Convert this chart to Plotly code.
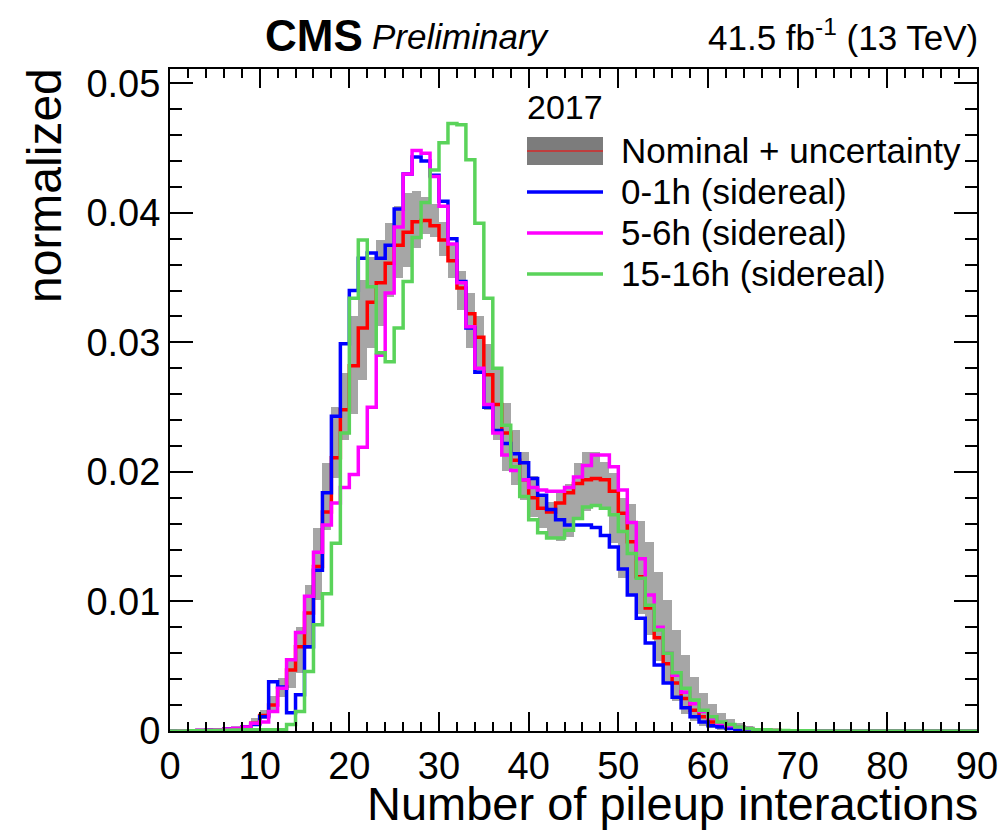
import numpy as np
import plotly.graph_objects as go

# ---------------- data (bins of width 1 from 0 to 90) ----------------
bin_edges = list(range(0, 91))

nominal = [0, 0.00001, 0.00002, 0.00004, 0.00006, 0.0001, 0.00014, 0.0002, 0.0003,
           0.0006, 0.0012, 0.002, 0.0033, 0.0047, 0.0065, 0.0091, 0.0127, 0.0169, 0.0211,
           0.0248, 0.0282, 0.0311, 0.0331, 0.0346, 0.0361, 0.0375, 0.0385, 0.0393, 0.0394,
           0.039, 0.0379, 0.0363, 0.0342, 0.0322, 0.0304, 0.0275, 0.0252, 0.023, 0.0209,
           0.0194, 0.018, 0.0172, 0.0169, 0.0176, 0.0184, 0.0191, 0.0194, 0.0195, 0.0194,
           0.0185, 0.0168, 0.0146, 0.0119, 0.0095, 0.0072, 0.0052, 0.0037, 0.0025, 0.0016,
           0.0011, 0.0007, 0.0004, 0.0003, 0.0002, 0.00012, 0.00008, 0.00005, 0.00003, 0.00002,
           0.00001, 0.00001, 0.00001, 0.00001, 0, 0, 0, 0, 0, 0,
           0, 0, 0, 0, 0, 0, 0, 0, 0, 0, 0]

band_lo = [0, 0, 0, 0.00002, 0.00004, 0.00006, 0.0001, 0.00014, 0.0002,
           0.0004, 0.0009, 0.0016, 0.0026, 0.0033, 0.0045, 0.0063, 0.0101, 0.0155, 0.0195,
           0.0225, 0.0245, 0.0271, 0.0296, 0.0313, 0.0335, 0.035, 0.0358, 0.0373, 0.0384,
           0.0381, 0.0367, 0.035, 0.0325, 0.0296, 0.0276, 0.0248, 0.0225, 0.0201, 0.019,
           0.0178, 0.0165, 0.0157, 0.015, 0.0147, 0.015, 0.0163, 0.017, 0.0174, 0.0172,
           0.0145, 0.0118, 0.0105, 0.009, 0.0074, 0.0054, 0.0036, 0.0023, 0.0013, 0.0008,
           0.0004, 0.0002, 0.0001, 0.0001, 0, 0, 0, 0, 0, 0,
           0, 0, 0, 0, 0, 0, 0, 0, 0, 0,
           0, 0, 0, 0, 0, 0, 0, 0, 0, 0, 0]

band_hi = [0.00001, 0.00002, 0.00004, 0.00006, 0.0001, 0.00015, 0.0002, 0.0003, 0.0005,
           0.001, 0.0016, 0.0027, 0.0041, 0.0056, 0.008, 0.0113, 0.0157, 0.0207, 0.025,
           0.0276, 0.032, 0.0348, 0.0366, 0.0379, 0.0392, 0.0405, 0.0415, 0.0417, 0.0412,
           0.0407, 0.0393, 0.0375, 0.0355, 0.0338, 0.032, 0.0299, 0.0279, 0.0253, 0.0232,
           0.0215, 0.0197, 0.0182, 0.0177, 0.0184, 0.0191, 0.0207, 0.0215, 0.0215, 0.0208,
           0.0199, 0.018, 0.0175, 0.0162, 0.0146, 0.0123, 0.0101, 0.0078, 0.0059, 0.0042,
           0.0029, 0.0021, 0.0014, 0.0009, 0.0006, 0.0004, 0.0002, 0.0001, 0.00005, 0.00002,
           0.00002, 0.00002, 0.00001, 0.00001, 0, 0, 0, 0, 0, 0,
           0, 0, 0, 0, 0, 0, 0, 0, 0, 0, 0]

h0_1 = [0, 0, 0.00001, 0.00003, 0.00005, 0.0001, 0.00015, 0.0002, 0.0003,
        0.0005, 0.0011, 0.0038, 0.0034, 0.0014, 0.0028, 0.0065, 0.0124, 0.0184, 0.0243,
        0.0299, 0.034, 0.0365, 0.0369, 0.0365, 0.0375, 0.0403, 0.043, 0.0443, 0.044,
        0.0429, 0.0409, 0.038, 0.0347, 0.0311, 0.0277, 0.025, 0.0232, 0.0222, 0.0214,
        0.0207, 0.0195, 0.0182, 0.0171, 0.0163, 0.0159, 0.0159, 0.0159, 0.0157, 0.0151,
        0.0142, 0.0125, 0.0105, 0.0087, 0.0068, 0.0051, 0.0037, 0.0026, 0.0018, 0.0011,
        0.0007, 0.0004, 0.0003, 0.0002, 0.0001, 0.00006, 0.00004, 0.00002, 0.00001, 0.00001,
        0, 0, 0, 0, 0, 0, 0, 0, 0, 0,
        0, 0, 0, 0, 0, 0, 0, 0, 0, 0, 0]

h5_6 = [0, 0.00001, 0.00002, 0.00004, 0.00006, 0.0001, 0.00015, 0.0002, 0.0003,
        0.0006, 0.0007, 0.0015, 0.0033, 0.0055, 0.0076, 0.0104, 0.0138, 0.0159, 0.0176,
        0.0188, 0.0198, 0.0219, 0.025, 0.029, 0.0338, 0.0389, 0.043, 0.0448, 0.0446,
        0.0428, 0.0405, 0.0376, 0.0346, 0.0312, 0.028, 0.0252, 0.023, 0.0213, 0.0201,
        0.0194, 0.0188, 0.0186, 0.0185, 0.0185, 0.0188, 0.0196, 0.0205, 0.0213, 0.0213,
        0.0204, 0.0186, 0.0161, 0.0133, 0.0105, 0.008, 0.006, 0.0043, 0.003, 0.0021,
        0.0015, 0.001, 0.0006, 0.0004, 0.0003, 0.0002, 0.0001, 0.00006, 0.00003, 0.00002,
        0.00001, 0.00001, 0, 0, 0, 0, 0, 0, 0, 0,
        0, 0, 0, 0, 0, 0, 0, 0, 0, 0, 0]

h15_16 = [0, 0, 0.00001, 0.00002, 0.00003, 0.00005, 0.00006, 0.00008, 0.0001,
          0.0001, 0.0001, 0.0001, 0.0001, 0.0005, 0.0015, 0.0046, 0.0082, 0.0106, 0.0145,
          0.023, 0.0334, 0.0379, 0.0343, 0.0292, 0.0285, 0.0311, 0.0347, 0.0381, 0.0408,
          0.0433, 0.0454, 0.0469, 0.0468, 0.0441, 0.0392, 0.0334, 0.028, 0.0236, 0.0204,
          0.0181, 0.0163, 0.0153, 0.0149, 0.0149, 0.0155, 0.0164, 0.0173, 0.0174, 0.0172,
          0.0167, 0.0154, 0.0137, 0.0118, 0.0097, 0.0078, 0.006, 0.0045, 0.0033, 0.0024,
          0.0016, 0.0011, 0.0007, 0.0005, 0.0003, 0.0002, 0.0001, 0.0001, 0.00005, 0.00003,
          0.00002, 0.00001, 0.00001, 0, 0, 0, 0, 0, 0, 0,
          0, 0, 0, 0, 0, 0, 0, 0, 0, 0, 0]

legend_header = "2017"
band_label = "Nominal + uncertainty"
series_labels = ["0-1h (sidereal)", "5-6h (sidereal)", "15-16h (sidereal)"]
series_values = [h0_1, h5_6, h15_16]
series_colors = ["#0000ff", "#ff00ff", "#5ad35a"]
nominal_color = "#ff0000"
band_color = "#7c7c7c"

FONT = "Liberation Sans, Arial, Helvetica, sans-serif"
LW = 3.5

# ---------------- geometry of the page ----------------
W, H = 1004, 832
ML, MR, MT, MB = 170, 27, 69, 101
PW, PH = W - ML - MR, H - MT - MB


def px(xp):
    return (xp - ML) / PW


def py(yp):
    return (H - MB - yp) / PH


edges = np.array(bin_edges, dtype=float)
centers = 0.5 * (edges[:-1] + edges[1:])
lo = np.array(band_lo)
hi = np.array(band_hi)

fig = go.Figure()

# uncertainty band
fig.add_trace(go.Bar(
    x=centers, y=hi - lo, base=lo, width=1.0,
    name=band_label,
    marker=dict(color="rgba(255,255,255,0)", line=dict(width=0),
                pattern=dict(shape=".", fgcolor="#000000", bgcolor="rgba(255,255,255,0.5)",
                             size=2, solidity=0.7)),
    showlegend=False, hoverinfo="skip",
))


def step_y(vals):
    return list(vals) + [vals[-1]]


# nominal line
fig.add_trace(go.Scatter(
    x=edges, y=step_y(nominal), mode="lines", line=dict(color=nominal_color, width=LW, shape="hv"),
    name="Nominal", showlegend=False,
))

for name, vals, col in zip(series_labels, series_values, series_colors):
    fig.add_trace(go.Scatter(
        x=edges, y=step_y(vals), mode="lines",
        line=dict(color=col, width=LW, shape="hv"), name=name, showlegend=False,
    ))

axis_common = dict(
    showline=True, linecolor="black", linewidth=2, mirror="allticks",
    ticks="inside", tickcolor="black", tickwidth=1.5,
    showgrid=False, zeroline=False, automargin=False,
    tickfont=dict(family=FONT, size=38, color="black"),
)

fig.update_xaxes(range=[0, 90], tick0=0, dtick=10, ticklen=19,
                 minor=dict(dtick=2, ticklen=9, ticks="inside", tickcolor="black", tickwidth=1.5),
                 **axis_common)
fig.update_yaxes(range=[0, 0.0511], tick0=0, dtick=0.01, ticklen=23,
                 minor=dict(dtick=0.002, ticklen=12, ticks="inside", tickcolor="black", tickwidth=1.5),
                 **axis_common)

# ---------------- legend (drawn as key shapes + texts) ----------------
key_x0, key_x1, text_x = 527, 603, 621
row_y = [151, 192, 233, 274]

shapes = [
    dict(type="rect", xref="paper", yref="paper", x0=px(key_x0), x1=px(key_x1),
         y0=py(row_y[0] + 14), y1=py(row_y[0] - 14),
         fillcolor=band_color, line=dict(width=0), layer="above"),
    dict(type="line", xref="paper", yref="paper", x0=px(key_x0), x1=px(key_x1),
         y0=py(row_y[0]), y1=py(row_y[0]), line=dict(color=nominal_color, width=1.2), layer="above"),
]
for yk, col in zip(row_y[1:], series_colors):
    shapes.append(dict(type="line", xref="paper", yref="paper", x0=px(key_x0), x1=px(key_x1),
                       y0=py(yk), y1=py(yk), line=dict(color=col, width=LW), layer="above"))

annotations = [
    dict(text=legend_header, xref="paper", yref="paper", x=px(key_x0 - 2), y=py(107),
         xanchor="left", yanchor="middle", showarrow=False,
         font=dict(family=FONT, size=34, color="black")),
    dict(text=band_label, xref="paper", yref="paper", x=px(text_x - 2), y=py(row_y[0]),
         xanchor="left", yanchor="middle", showarrow=False,
         font=dict(family=FONT, size=35, color="black")),
]
for yk, lab in zip(row_y[1:], series_labels):
    annotations.append(dict(text=lab, xref="paper", yref="paper", x=px(text_x - 2), y=py(yk - 1),
                            xanchor="left", yanchor="middle", showarrow=False,
                            font=dict(family=FONT, size=35, color="black")))

annotations += [
    dict(text="<b>CMS</b>", xref="paper", yref="paper", x=px(263), y=py(35),
         xanchor="left", yanchor="middle", showarrow=False,
         font=dict(family=FONT, size=44, color="black")),
    dict(text="<i>Preliminary</i>", xref="paper", yref="paper", x=px(370), y=py(37),
         xanchor="left", yanchor="middle", showarrow=False,
         font=dict(family=FONT, size=35, color="black")),
    dict(text="41.5 fb<sup>-1</sup> (13 TeV)", xref="paper", yref="paper", x=px(980), y=py(35),
         xanchor="right", yanchor="middle", showarrow=False,
         font=dict(family=FONT, size=35, color="black")),
    dict(text="normalized", xref="paper", yref="paper", x=px(16), y=py(66),
         xanchor="left", yanchor="top", textangle=-90, showarrow=False,
         font=dict(family=FONT, size=48, color="black")),
    dict(text="Number of pileup interactions", xref="paper", yref="paper", x=px(980), y=py(803),
         xanchor="right", yanchor="middle", showarrow=False,
         font=dict(family=FONT, size=47, color="black")),
]

fig.update_layout(
    width=W, height=H,
    margin=dict(l=ML, r=MR, t=MT, b=MB),
    plot_bgcolor="white", paper_bgcolor="white",
    barmode="overlay", bargap=0,
    font=dict(family=FONT, color="black"),
    showlegend=False,
    shapes=shapes,
    annotations=annotations,
)

fig.write_html("out.html")
